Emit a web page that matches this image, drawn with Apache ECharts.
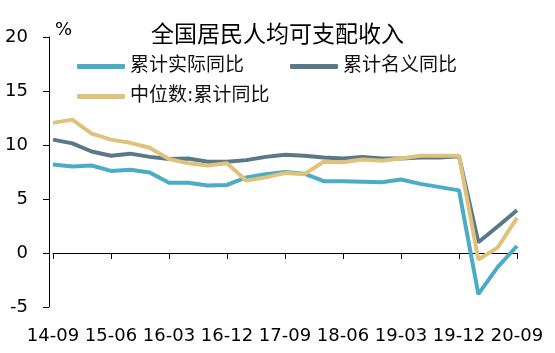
<!doctype html>
<html>
<head>
<meta charset="utf-8">
<title>全国居民人均可支配收入</title>
<script src="https://cdn.jsdelivr.net/npm/echarts@6/dist/echarts.min.js"></script>
<style>
  html, body { margin: 0; padding: 0; background: #fff; }
  #chart { width: 555px; height: 353px; }
</style>
</head>
<body>
<div id="chart"></div>
<script type="text/javascript">
// quarters, 14-09 .. 20-09
var quarters = ['14-09', '14-12', '15-03', '15-06', '15-09', '15-12', '16-03', '16-06', '16-09', '16-12',
                '17-03', '17-06', '17-09', '17-12', '18-03', '18-06', '18-09', '18-12', '19-03', '19-06',
                '19-09', '19-12', '20-03', '20-06', '20-09'];
var yTicks = { min: -5, max: 20, step: 5 };

var realYoY = [8.2, 8.0, 8.1, 7.6, 7.7, 7.45, 6.5, 6.5, 6.25, 6.3, 7.0, 7.3, 7.5, 7.35, 6.65,
               6.65, 6.6, 6.55, 6.8, 6.4, 6.1, 5.8, -3.8, -1.3, 0.65];
var nominalYoY = [10.5, 10.15, 9.4, 9.0, 9.2, 8.9, 8.7, 8.75, 8.45, 8.45, 8.6, 8.9, 9.1, 9.0, 8.85,
                  8.75, 8.9, 8.75, 8.75, 8.85, 8.85, 8.95, 1.0, 2.45, 3.95];
var medianYoY = [12.05, 12.35, 11.05, 10.5, 10.2, 9.75, 8.7, 8.3, 8.1, 8.3, 6.7, 7.0, 7.4, 7.3, 8.45,
                 8.4, 8.65, 8.55, 8.75, 9.0, 9.0, 9.0, -0.6, 0.5, 3.25];

var names = ['累计实际同比', '累计名义同比', '中位数:累计同比'];
var colors = ['#4bacc6', '#5a7986', '#e0c27c'];

var font = "'DejaVu Sans', 'Noto Sans CJK SC', sans-serif";

function legendAt(name, left, top) {
	return {
		data: [name],
		left: left,
		top: top,
		padding: 0,
		icon: 'roundRect',
		itemWidth: 48,
		itemHeight: 5,
		itemGap: 5,
		textStyle: { fontSize: 19, color: '#111', fontFamily: font }
	};
}

var myChart = echarts.init(document.getElementById('chart'));
var option = {
	animation: false,
	color: colors,
	title: {
		text: '全国居民人均可支配收入',
		left: 'center',
		top: 25,
		padding: [0, 0, 0, 0],
		textStyle: { fontSize: 23, fontWeight: 'normal', color: '#000', fontFamily: font }
	},
	legend: [
		legendAt(names[0], 77, 57),
		legendAt(names[1], 290, 57),
		legendAt(names[2], 77, 87)
	],
	grid: { left: 53, right: 38, top: 37, bottom: 46 },
	xAxis: [
		{
			// tick labels at the bottom
			type: 'category',
			data: quarters,
			boundaryGap: false,
			position: 'bottom',
			axisLine: { show: false, onZero: false },
			axisTick: { show: false },
			axisLabel: { interval: 2, margin: 20, fontSize: 18, color: '#000', fontFamily: font }
		},
		{
			// axis line through zero
			type: 'category',
			data: quarters,
			boundaryGap: false,
			position: 'bottom',
			axisLine: { show: true, onZero: true, lineStyle: { color: '#000', width: 1 } },
			axisTick: { show: true, interval: 2, length: 6, lineStyle: { color: '#000' } },
			axisLabel: { show: false }
		}
	],
	yAxis: {
		type: 'value',
		min: yTicks.min,
		max: yTicks.max,
		interval: yTicks.step,
		offset: 4,
		name: '%',
		nameLocation: 'end',
		nameGap: -2,
		nameTextStyle: { fontSize: 18, color: '#000', align: 'left', padding: [0, 0, 0, 6], fontFamily: font },
		axisLine: { show: true, lineStyle: { color: '#000', width: 1 } },
		axisTick: { show: true, length: 6, lineStyle: { color: '#000' } },
		axisLabel: { margin: 21, fontSize: 18, color: '#000', fontFamily: font },
		splitLine: { show: false }
	},
	series: [
		{ name: names[0], type: 'line', data: realYoY, symbol: 'none', lineStyle: { width: 4, color: colors[0] } },
		{ name: names[1], type: 'line', data: nominalYoY, symbol: 'none', lineStyle: { width: 4, color: colors[1] } },
		{ name: names[2], type: 'line', data: medianYoY, symbol: 'none', lineStyle: { width: 4, color: colors[2] } }
	]
};
myChart.setOption(option);
</script>
</body>
</html>
